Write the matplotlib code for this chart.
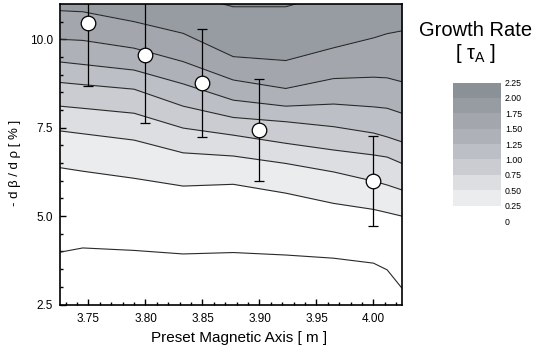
import numpy as np
import matplotlib
matplotlib.use('Agg')
import matplotlib.pyplot as plt

plt.rcParams['font.family'] = ['Liberation Sans', 'DejaVu Sans']
plt.rcParams['mathtext.fontset'] = 'custom'
plt.rcParams['mathtext.rm'] = 'Liberation Sans'
plt.rcParams['mathtext.it'] = 'Liberation Sans'

# contour lines: y position of each level at the grid x
grid_x = [3.725, 3.745, 3.79, 3.833, 3.877, 3.923, 3.965, 4.00, 4.012, 4.025]
line_000 = [3.98, 4.10, 4.03, 3.93, 3.97, 3.90, 3.81, 3.67, 3.48, 2.96]
line_025 = [6.37, 6.27, 6.07, 5.85, 5.90, 5.65, 5.36, 5.19, 5.10, 5.00]
line_050 = [7.41, 7.33, 7.15, 6.79, 6.70, 6.49, 6.25, 5.99, 5.88, 5.74]
line_075 = [8.11, 8.05, 7.91, 7.49, 7.29, 7.06, 6.87, 6.73, 6.67, 6.49]
line_100 = [8.78, 8.72, 8.59, 8.11, 7.79, 7.67, 7.53, 7.35, 7.24, 7.10]
line_125 = [9.36, 9.29, 9.13, 8.74, 8.28, 8.11, 8.17, 8.09, 8.05, 7.91]
line_150 = [10.00, 9.97, 9.75, 9.37, 8.85, 8.61, 8.89, 8.93, 8.91, 8.80]
line_175 = [10.81, 10.78, 10.50, 10.17, 9.51, 9.40, 9.76, 10.04, 10.16, 10.24]
line_200 = [11.3, 11.3, 11.3, 11.3, 10.92, 10.92, 11.3, 11.3, 11.3, 11.3]

levels = [0, 0.25, 0.5, 0.75, 1.0, 1.25, 1.5, 1.75, 2.0, 2.25]
level_labels = ['0', '0.25', '0.50', '0.75', '1.00', '1.25', '1.50', '1.75', '2.00', '2.25']
band_colors = ['#ffffff', '#ebecee', '#dcdee1', '#caccd1', '#bcbfc5',
               '#aeb2b8', '#a3a7ad', '#979ca3', '#8c9198']

# measured points with error bars
axis_pos = [3.75, 3.80, 3.85, 3.90, 4.00]
slope = [10.45, 9.55, 8.77, 7.43, 5.99]
slope_err = [1.76, 1.93, 1.52, 1.45, 1.27]

lines = [line_000, line_025, line_050, line_075, line_100,
         line_125, line_150, line_175, line_200]

fig = plt.figure(figsize=(5.39, 3.54), dpi=100)
ax = fig.add_axes([0.1113, 0.1398, 0.6345, 0.8489])

# filled bands between consecutive contour lines
for i in range(len(lines) - 1):
    ax.fill_between(grid_x, lines[i], lines[i + 1], color=band_colors[i], lw=0)
ax.fill_between(grid_x, line_200, 12, color=band_colors[-1], lw=0)

for ln in lines:
    ax.plot(grid_x, ln, color='#2a2a2a', lw=0.8)

ax.errorbar(axis_pos, slope, yerr=slope_err, fmt='o', color='black',
            mfc='white', mec='black', mew=0.9, ms=10.5,
            elinewidth=0.9, capsize=3.5, capthick=0.9, zorder=5)

ax.set_xlim(3.725, 4.025)
ax.set_ylim(2.5, 11.0)
ax.set_xticks([3.75, 3.80, 3.85, 3.90, 3.95, 4.00])
ax.set_xticklabels(['3.75', '3.80', '3.85', '3.90', '3.95', '4.00'])
ax.set_xticks(np.arange(3.73, 4.025, 0.01), minor=True)
ax.set_yticks([2.5, 5.0, 7.5, 10.0])
ax.set_yticklabels(['2.5', '5.0', '7.5', '10.0'])
ax.set_yticks(np.arange(3.0, 11.0, 0.5), minor=True)
ax.tick_params(which='both', direction='in', width=1, labelsize=8.5,
               top=False, right=False)
ax.tick_params(which='major', length=4.5)
ax.tick_params(which='minor', length=2)
ax.tick_params(axis='x', pad=6)
ax.tick_params(axis='y', pad=5)
for s in ax.spines.values():
    s.set_linewidth(1.2)

ax.set_xlabel('Preset Magnetic Axis [ m ]', fontsize=11)
ax.xaxis.set_label_coords(0.523, -0.088)
ax.set_ylabel('- d \u03b2 / d \u03c1 [ % ]', fontsize=9.5)
ax.yaxis.set_label_coords(-0.115, 0.47)

# legend drawn as a stack of colour boxes
leg = fig.add_axes([0.840, 0.3757, 0.089, 0.3912])
leg.bar(0, 0.25, bottom=levels[:-1], color=band_colors, width=1.0, align='edge')
leg.set_xlim(0, 1)
leg.set_ylim(0, 2.25)
leg.set_xticks([])
leg.yaxis.tick_right()
leg.set_yticks(levels)
leg.set_yticklabels(level_labels)
leg.tick_params(axis='y', length=0, labelsize=6.3, pad=3)
for s in leg.spines.values():
    s.set_visible(False)

fig.text(0.883, 0.915, 'Growth Rate', fontsize=14.5, ha='center', va='center')
fig.text(0.883, 0.848, r'[ $\tau_{\rm A}$ ]', fontsize=14.5, ha='center', va='center')

fig.savefig('out.png', dpi=100)
